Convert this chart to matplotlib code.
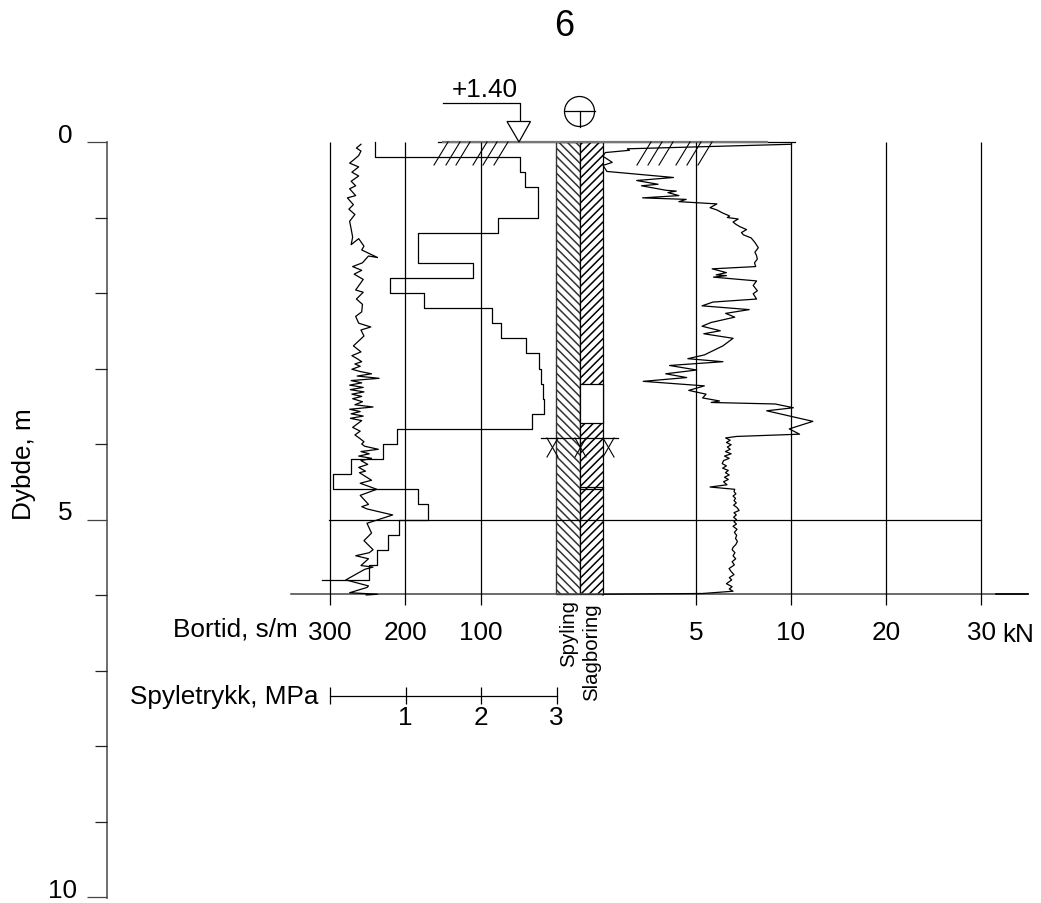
import numpy as np
import matplotlib
matplotlib.use("Agg")
import matplotlib.pyplot as plt
from matplotlib.patches import Rectangle, Circle, Polygon

plt.rcParams['font.family'] = ['Liberation Sans', 'DejaVu Sans']
plt.rcParams['hatch.linewidth'] = 1.1

# drilling time, s/m, per 0.2 m from the top
bortid_depth = [0.0, 0.2, 0.4, 0.6, 0.8, 1.0, 1.2, 1.4, 1.6, 1.8, 2.0, 2.2, 2.4, 2.6, 2.8,
                3.0, 3.2, 3.4, 3.6, 3.8, 4.0, 4.2, 4.4, 4.6, 4.8, 5.0, 5.2, 5.4, 5.6, 5.8]
bortid = [240, 48, 42, 24, 24.5, 77, 184, 183, 110, 220, 176, 85, 73, 41, 23,
          20.5, 18, 17, 32, 211, 230, 272, 296, 184, 170, 208, 223, 238, 249, 311]

# flushing pressure, MPa
trykk = [.41, .35, .41, .38, .31, .26, .38, .29, .38, .28, .34, .26, .34, .23, .31, .25, .33, .26, .28, .30,
         .28, .38, .45, .42, .63, .51, .43, .30, .42, .32, .44, .34, .44, .35, .43, .42, .34, .38, .54, .41,
         .45, .31, .41, .29, .36, .42, .33, .40, .29, .40, .55, .36, .65, .28, .42, .26, .44, .27, .45, .29,
         .42, .30, .43, .33, .57, .26, .40, .28, .44, .27, .42, .30, .40, .33, .40, .45, .42, .46, .64, .41,
         .52, .38, .55, .41, .50, .38, .47, .39, .55, .40, .62, .40, .51, .42, .49, .83, .49, .55, .45, .57,
         .52, .34, .51, .41, .57, .46, .21, .51, .49, .26, .63, .48]
trykk_depth = [.03, .08, .12, .18, .24, .28, .33, .40, .45, .52, .58, .62, .71, .74, .83, .89, .96, 1.05, 1.15, 1.26,
               1.36, 1.28, 1.38, 1.43, 1.53, 1.51, 1.60, 1.65, 1.70, 1.75, 1.82, 1.96, 1.99, 2.08, 2.15, 2.25, 2.31, 2.40, 2.45, 2.49,
               2.57, 2.70, 2.78, 2.83, 2.87, 2.91, 2.94, 2.97, 3.01, 3.04, 3.07, 3.10, 3.13, 3.16, 3.19, 3.22, 3.25, 3.28, 3.31, 3.34,
               3.37, 3.40, 3.44, 3.48, 3.51, 3.54, 3.57, 3.60, 3.63, 3.66, 3.69, 3.78, 3.83, 3.88, 3.93, 3.97, 4.00, 4.03, 4.07, 4.10,
               4.13, 4.16, 4.19, 4.22, 4.27, 4.31, 4.36, 4.38, 4.48, 4.52, 4.60, 4.68, 4.80, 4.83, 4.86, 4.94, 5.05, 5.18, 5.28, 5.40,
               5.44, 5.48, 5.52, 5.61, 5.63, 5.66, 5.80, 5.88, 5.90, 5.97, 5.99, 6.0]

# feed force, kN
kraft = [10.05, 1.31, 1.42, .12, 0, .50, 0, .21, 3.79, 1.81, 2.96, 2.07, 3.40, 3.94, 3.49, 4.08, 2.13, 4.47, 4.08, 6.10,
         5.74, 6.10, 6.40, 6.77, 6.65, 7.22, 6.95, 7.10, 7.30, 7.66, 7.39, 7.50, 7.90, 8.10, 8.28, 8.10, 8.18, 8.23, 8.08, 8.14,
         5.85, 6.60, 6.06, 6.60, 5.92, 8.19, 8.01, 8.23, 8.01, 8.19, 5.89, 5.32, 7.80, 6.56, 7.04, 5.80, 5.32, 6.28, 5.41, 6.95,
         6.42, 5.44, 4.56, 6.42, 3.58, 5.04, 3.37, 4.50, 2.16, 5.44, 4.61, 5.53, 5.35, 6.24, 5.80, 9.17, 10.25, 8.72, 12.3, 9.91,
         10.9, 7.13, 6.56, 6.80, 6.60, 6.85, 6.65, 6.80, 6.55, 6.85, 6.50, 6.75, 6.45, 6.38, 6.60, 6.40, 6.70, 6.55, 6.75, 6.50,
         6.70, 6.45, 6.63, 5.74, 7.04, 7.00, 7.10, 6.95, 7.08, 7.00, 7.12, 6.98, 7.15, 7.27, 7.00, 7.12, 6.98, 7.13, 7.00, 7.13,
         6.95, 7.16, 7.02, 7.14, 7.08, 7.18, 7.10, 6.95, 6.90, 7.05, 6.95, 7.09, 6.90, 7.02, 6.74, 6.85, 7.00, 6.75, 6.88, 6.60,
         6.90, 6.75, 6.95, 5.35, .04, 0]
kraft_depth = [.03, .09, .11, .14, .19, .27, .31, .39, .47, .51, .56, .58, .64, .65, .67, .71, .74, .76, .79, .82,
               .87, .90, .94, .98, 1.00, 1.02, 1.06, 1.09, 1.12, 1.16, 1.20, 1.23, 1.27, 1.33, 1.40, 1.46, 1.50, 1.55, 1.60, 1.65,
               1.68, 1.73, 1.76, 1.77, 1.79, 1.84, 1.90, 1.97, 2.01, 2.08, 2.12, 2.17, 2.22, 2.27, 2.32, 2.39, 2.44, 2.50, 2.54, 2.60,
               2.70, 2.82, 2.87, 2.91, 2.96, 3.02, 3.07, 3.12, 3.17, 3.23, 3.29, 3.34, 3.39, 3.43, 3.45, 3.47, 3.52, 3.56, 3.70, 3.80,
               3.87, 3.90, 3.92, 3.95, 3.98, 4.01, 4.04, 4.07, 4.10, 4.13, 4.16, 4.19, 4.22, 4.26, 4.29, 4.32, 4.35, 4.38, 4.41, 4.44,
               4.47, 4.50, 4.54, 4.57, 4.60, 4.63, 4.66, 4.69, 4.72, 4.75, 4.78, 4.81, 4.84, 4.88, 4.91, 4.94, 4.97, 5.00, 5.03, 5.06,
               5.09, 5.13, 5.17, 5.21, 5.25, 5.29, 5.33, 5.37, 5.40, 5.44, 5.48, 5.52, 5.56, 5.60, 5.65, 5.69, 5.73, 5.77, 5.80, 5.85,
               5.89, 5.92, 5.95, 5.98, 5.99, 6.00]

# scales and labels
bortid_ticks = [300, 200, 100]
trykk_ticks = [1, 2, 3]
kraft_ticks = [5, 10, 20, 30]
depth_major = [0, 5, 10]
depth_minor = [1, 2, 3, 4, 6, 7, 8, 9]

W, H = 1041, 904
LW = 0.9
FS = 18.8

fig = plt.figure(figsize=(W / 100, H / 100), dpi=100)

# the kN axis is not linear: 0-10 is wider than 10-30
kn_knots = [-32.42, 0, 5, 10, 20, 30, 36.32]
px_knots = [0, 603, 696, 791, 886, 981, 1041]


def kn_forward(v):
    return np.interp(v, kn_knots, px_knots)


def kn_inverse(v):
    return np.interp(v, px_knots, kn_knots)


def overlay(name):
    a = fig.add_axes([0, 0, 1, 1], label=name)
    a.axis('off')
    a.patch.set_alpha(0)
    return a


ax_px = overlay('px')
ax_px.set_xlim(0, W)
ax_px.set_ylim(H, 0)

top_depth, bottom_depth = -143 / 75.5, (H - 143) / 75.5
ax_b = overlay('bortid')
ax_b.set_xlim(556.5 / 0.755, (556.5 - W) / 0.755)
ax_b.set_ylim(bottom_depth, top_depth)

ax_p = overlay('trykk')
ax_p.set_xlim(-330 / 75.5, (W - 330) / 75.5)
ax_p.set_ylim(bottom_depth, top_depth)

ax_k = overlay('kraft')
ax_k.set_xscale('function', functions=(kn_forward, kn_inverse))
ax_k.set_xlim(-32.42, 36.32)
ax_k.set_ylim(bottom_depth, top_depth)

# depth axis
ax_px.plot([107, 107], [143, 899], color='#555555', lw=1.2)
ax_b.hlines(depth_major, 622, 595, color='#444444', lw=LW)
ax_b.hlines(depth_minor, 611, 595, color='#222222', lw=LW)
for d, x0 in zip(depth_major, [65, 65, 62]):
    ax_px.text(x0, 143 + d * 75.5 - 7, str(d), fontsize=FS, ha='center', va='center')
ax_px.text(24, 464, 'Dybde, m', rotation=90, fontsize=FS, ha='center', va='center')
ax_px.text(564, 27, '6', fontsize=26, ha='center', va='center')

# grid lines
ax_b.vlines(bortid_ticks, 0, 6.13, color='k', lw=LW)
ax_k.vlines(kraft_ticks, 0, 6.13, color='k', lw=LW)
ax_px.plot([329, 981], [520.5, 520.5], color='k', lw=LW)
ax_px.plot([291, 1028], [595, 595], color='#444444', lw=LW + 0.2)
ax_px.plot([996, 1028], [595, 595], color='k', lw=1.2)
ax_px.plot([438, 795], [143, 143], color='k', lw=LW)
ax_px.plot([443, 767], [142.5, 142.5], color='#777777', lw=1.6)

# drilling method column
ax_px.add_patch(Rectangle((556, 143), 24, 452, fc='white', ec='#333333', lw=LW + 0.1, hatch='\\\\\\\\'))
ax_px.add_patch(Rectangle((580, 143), 23, 452, fc='white', ec='k', lw=LW, hatch='////'))
ax_px.add_patch(Rectangle((580, 385), 23, 39, fc='white', ec='k', lw=LW, zorder=3))
ax_px.plot([580, 603], [488, 488], color='k', lw=LW, zorder=3)
ax_px.plot([580, 603], [490, 490], color='k', lw=LW, zorder=3)

# ground water level
ax_px.plot([541, 618], [439, 439], color='k', lw=LW, zorder=4)
for x0 in (547, 575, 603):
    ax_px.plot([x0, x0 + 11], [458, 439], color='k', lw=LW - 0.1, zorder=4)
    ax_px.plot([x0, x0 + 11], [439, 458], color='k', lw=LW - 0.1, zorder=4)

# ground surface hatching
for x0 in [434, 446, 456, 473, 483, 494, 637, 648, 659, 676, 687, 698]:
    ax_px.plot([x0, x0 + 14], [166, 143], color='k', lw=LW - 0.1)

# level marker
ax_px.plot([443, 520, 520], [104, 104, 122], color='k', lw=LW)
ax_px.add_patch(Polygon([(507, 122.5), (530.5, 122.5), (519, 143)], closed=True, fc='white', ec='k', lw=LW, zorder=3))
ax_px.text(485, 90, '+1.40', fontsize=FS, ha='center', va='center')
ax_px.add_patch(Circle((579.5, 112.5), 15, fc='white', ec='k', lw=LW))
ax_px.plot([564.5, 594.5], [112, 112], color='k', lw=LW)
ax_px.plot([579.5, 579.5], [112, 127.5], color='k', lw=LW)

# curves
bx = np.repeat(bortid, 2)[:-1]
by = np.repeat(bortid_depth + [6.0], 2)[1:-1][:len(bx)]
ax_b.plot(np.r_[bortid[0], bx], np.r_[0.0, by], color='k', lw=LW)
ax_p.plot(trykk, trykk_depth, color='k', lw=LW)
ax_k.plot(kraft, kraft_depth, color='k', lw=LW)

# tick labels
for v in bortid_ticks:
    ax_b.text(v, 6.49, str(v), fontsize=FS, ha='center', va='center')
for v in kraft_ticks:
    ax_k.text(v, 6.49, str(v), fontsize=FS, ha='center', va='center')
ax_px.text(1018, 635, 'kN', fontsize=FS, ha='center', va='center')
ax_px.text(298, 630, 'Bortid, s/m', fontsize=FS, ha='right', va='center')
ax_px.text(569, 634, 'Spyling', rotation=90, fontsize=14.7, ha='center', va='center')
ax_px.text(592, 652, 'Slagboring', rotation=90, fontsize=14.7, ha='center', va='center')

# pressure scale
ax_px.text(319, 697, 'Spyletrykk, MPa', fontsize=FS, ha='right', va='center')
ax_p.plot([0, 3], [7.34, 7.34], color='k', lw=LW)
ax_p.vlines([0] + trykk_ticks, 7.22, 7.44, color='k', lw=LW)
for v in trykk_ticks:
    ax_p.text(v, 7.62, str(v), fontsize=FS, ha='center', va='center')

fig.savefig('out.png', dpi=100)
